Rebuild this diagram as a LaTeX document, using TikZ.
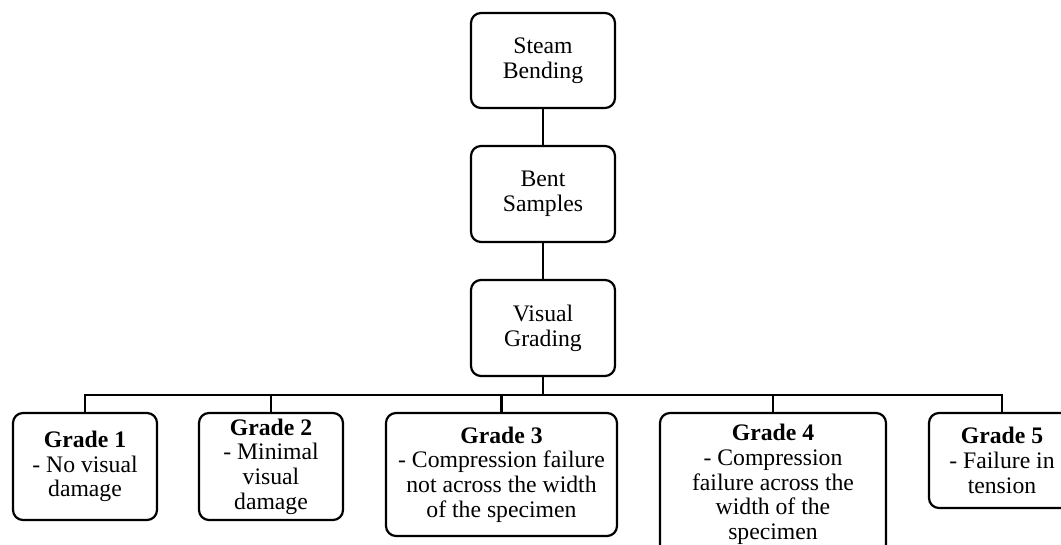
\documentclass[tikz,border=0pt]{standalone}
\usepackage{fontspec}
\setmainfont{Liberation Serif}
\begin{document}
\begin{tikzpicture}[x=1pt,y=-1pt,
  box/.style={draw=black, line width=2.2pt, rounded corners=10pt, fill=white,
    align=center, inner sep=0pt, font=\fontsize{23.7}{24.7}\selectfont},
  conn/.style={draw=black, line width=2.2pt}]
\useasboundingbox (0,0) rectangle (1061,544);
\node[box, minimum width=144pt, minimum height=95pt] (steam) at (543,60.5) {Steam\\Bending};
\node[box, minimum width=144pt, minimum height=96pt] (bent) at (543,194) {Bent\\Samples};
\node[box, minimum width=144pt, minimum height=96pt] (visual) at (543,328) {Visual\\Grading};
\coordinate (bar) at (543,395);
\node[box, minimum width=144pt, minimum height=107pt] (g1) at (85,466.5) {\textbf{Grade 1}\\- No visual\\damage};
\node[box, minimum width=144pt, minimum height=107pt] (g2) at (271,466.5) {\textbf{Grade 2}\\- Minimal\\visual\\damage};
\node[box, minimum width=231pt, minimum height=123pt] (g3) at (501.5,474.5) {\textbf{Grade 3}\\- Compression failure\\not across the width\\of the specimen};
\node[box, minimum width=226pt, minimum height=143pt] (g4) at (773,484.5) {\textbf{Grade 4}\\- Compression\\failure across the\\width of the\\specimen};
\node[box, minimum width=146pt, minimum height=95pt] (g5) at (1002,460.5) {\textbf{Grade 5}\\- Failure in\\tension};
\draw[conn] (steam.south) -- (bent.north);
\draw[conn] (bent.south) -- (visual.north);
\draw[conn] (visual.south) -- (bar);
\draw[conn] (g1.north) |- (bar);
\draw[conn] (g5.north) |- (bar);
\draw[conn] (g2.north) -- (g2.north |- bar);
\draw[conn] (g3.north) -- (g3.north |- bar);
\draw[conn] (g4.north) -- (g4.north |- bar);
\end{tikzpicture}
\end{document}
